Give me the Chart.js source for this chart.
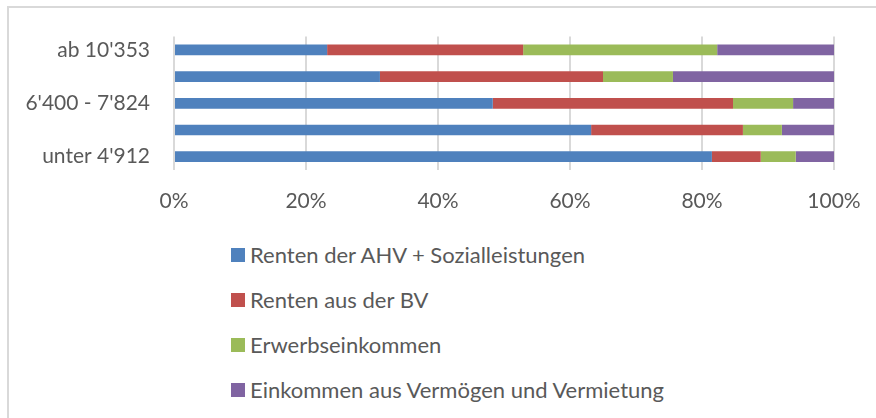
<!DOCTYPE html>
<html>
<head>
<meta charset="utf-8">
<script src="https://cdn.jsdelivr.net/npm/chart.js@4.4.1/dist/chart.umd.min.js"></script>
<style>
  html, body { margin: 0; padding: 0; background: #fff; }
  #wrap { position: relative; width: 876px; height: 418px; overflow: hidden; }
  #frame { position: absolute; left: 7px; top: 6px; width: 900px; height: 450px;
           border-left: 2px solid #d9d9d9; border-top: 2px solid #d9d9d9; }
  #chart-box { position: absolute; left: 0; top: 0; width: 876px; height: 230px; }
  #legend { position: absolute; left: 231px; top: 232px; margin: 0; padding: 0; list-style: none;
            font-family: Lato, sans-serif; font-size: 22px; color: #595959; }
  #legend li { height: 45px; display: flex; align-items: center; }
  #legend .box { width: 14px; height: 14px; margin-right: 5px; }
</style>
</head>
<body>
<div id="wrap">
  <div id="frame"></div>
  <div id="chart-box"><canvas id="c"></canvas></div>
  <ul id="legend"></ul>
</div>
<script>
// categories, top to bottom (labels 2 and 4 are not shown in the original)
const categories = ["ab 10'353", "7'825 - 10'352", "6'400 - 7'824", "4'913 - 6'399", "unter 4'912"];
const shownLabels = [0, 2, 4];

const seriesNames = [
    'Renten der AHV + Sozialleistungen',
    'Renten aus der BV',
    'Erwerbseinkommen',
    'Einkommen aus Vermögen und Vermietung'
];

// shares in percent, one value per category
const ahv = [23.2, 31.2, 48.3, 63.2, 81.5];
const bv = [29.7, 33.8, 36.4, 23.0, 7.4];
const erwerb = [29.4, 10.6, 9.1, 5.9, 5.3];
const vermoegen = [17.7, 24.4, 6.2, 7.9, 5.8];

const colors = ['#4f81bd', '#c0504d', '#9bbb59', '#8064a2'];
const xTicks = [0, 20, 40, 60, 80, 100];

const FONT = { family: 'Lato, sans-serif', size: 21 };
const TEXT = '#595959';

const chart = new Chart(document.getElementById('c'), {
    type: 'bar',
    data: {
        labels: categories,
        datasets: [ahv, bv, erwerb, vermoegen].map((d, i) => ({
            label: seriesNames[i],
            data: d,
            backgroundColor: colors[i],
            barPercentage: 0.4,
            categoryPercentage: 1
        }))
    },
    options: {
        indexAxis: 'y',
        responsive: true,
        maintainAspectRatio: false,
        animation: false,
        layout: { padding: { left: 0, right: 42, top: 36, bottom: 0 } },
        plugins: {
            legend: { display: false },
            tooltip: { enabled: false }
        },
        scales: {
            x: {
                stacked: true,
                min: 0,
                max: 100,
                afterBuildTicks: scale => { scale.ticks = xTicks.map(v => ({ value: v })); },
                afterFit: scale => {
                    scale.height = 60;
                    scale.paddingLeft = 0;
                    scale.paddingRight = 0;
                },
                grid: { color: '#d9d9d9', lineWidth: 2, drawTicks: false },
                border: { display: false },
                ticks: {
                    padding: 19,
                    color: TEXT,
                    font: FONT,
                    callback: v => v + '%'
                }
            },
            y: {
                stacked: true,
                afterFit: scale => { scale.width = 174; },
                grid: { display: false, drawTicks: false },
                border: { display: false },
                ticks: {
                    padding: 24,
                    color: TEXT,
                    font: FONT,
                    autoSkip: false,
                    callback: (v, i) => shownLabels.includes(i) ? categories[i] : ''
                }
            }
        }
    }
});

// legend as a vertical list below the plot
const legend = document.getElementById('legend');
seriesNames.forEach((name, i) => {
    const li = document.createElement('li');
    li.innerHTML = `<span class="box" style="background:${colors[i]}"></span><span>${name}</span>`;
    legend.appendChild(li);
});
</script>
</body>
</html>
